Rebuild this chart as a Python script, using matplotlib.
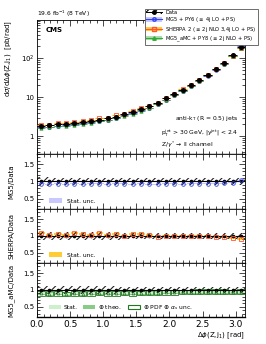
import matplotlib
matplotlib.use('Agg')
import matplotlib.pyplot as plt
import numpy as np
from matplotlib.lines import Line2D
from matplotlib.patches import Patch
from matplotlib.ticker import FixedLocator, FuncFormatter, MultipleLocator

# Binning: 25 equal bins in delta phi
edges = np.linspace(0, np.pi, 26)

# Measured cross section [pb/rad]
data_xs = [1.82, 1.9, 2.0, 2.09, 2.2, 2.35, 2.45, 2.65, 2.88, 3.17, 3.7, 4.2, 4.9,
           5.8, 7.1, 9.3, 12.1, 15.6, 21, 28, 38, 54, 76, 120, 195]
data_rel_unc = [0.12, 0.12, 0.11, 0.11, 0.11, 0.11, 0.11, 0.11, 0.11, 0.11, 0.1, 0.1, 0.1,
                0.1, 0.1, 0.1, 0.1, 0.1, 0.1, 0.1, 0.1, 0.1, 0.1, 0.1, 0.1]

# Prediction / data ratios
mg5_ratio = [0.93, 0.92, 0.93, 0.92, 0.93, 0.92, 0.93, 0.93, 0.92, 0.93, 0.93, 0.92, 0.93,
             0.92, 0.92, 0.93, 0.93, 0.92, 0.93, 0.93, 0.93, 0.94, 0.95, 0.97, 1.04]
sherpa_ratio = [1.08, 1.03, 1.06, 1.02, 1.08, 1.07, 1.04, 1.09, 1.02, 1.07, 1.0, 1.06, 1.07,
                1.03, 0.97, 1.01, 1.0, 1.01, 0.99, 1.0, 0.99, 0.97, 0.96, 0.93, 0.92]
amc_ratio = [0.9, 0.89, 0.9, 0.88, 0.9, 0.89, 0.9, 0.91, 0.9, 0.9, 0.91, 0.9, 0.91,
             0.92, 0.92, 0.93, 0.93, 0.94, 0.94, 0.95, 0.95, 0.95, 0.95, 0.94, 0.95]
mg5_stat = 0.015
sherpa_stat = 0.03
amc_stat = 0.03
amc_theo = 0.06
amc_pdf = 0.07

x = 0.5 * (edges[1:] + edges[:-1])
w = np.diff(edges)
data_xs = np.array(data_xs)
data_rel_unc = np.array(data_rel_unc)
mg5_ratio = np.array(mg5_ratio)
sherpa_ratio = np.array(sherpa_ratio)
amc_ratio = np.array(amc_ratio)

plt.rcParams['font.family'] = 'DejaVu Sans'
plt.rcParams['hatch.linewidth'] = 0.8

fig = plt.figure(figsize=(2.66, 3.44), dpi=100)
gs = fig.add_gridspec(4, 1, height_ratios=[134, 55, 54, 54], hspace=0,
                      left=0.139, right=0.921, top=0.942, bottom=0.0785)
ax = fig.add_subplot(gs[0])
rax = [fig.add_subplot(gs[i], sharex=ax) for i in (1, 2, 3)]

fs = 4.3

# Main panel
ax.errorbar(x, data_xs * mg5_ratio, xerr=w / 2, fmt='o', mfc='none', mec='#3344ee', ecolor='#3344ee',
            ms=2.6, mew=0.6, elinewidth=0.6, zorder=3)
ax.errorbar(x, data_xs * sherpa_ratio, xerr=w / 2, fmt='s', mfc='none', mec='#ff5533', ecolor='#ffaa00',
            ms=2.4, mew=0.6, elinewidth=0.8, zorder=3)
ax.errorbar(x, data_xs * amc_ratio, xerr=w / 2, fmt='^', mfc='#33aa33', mec='#117711', ecolor='#33aa33',
            ms=2.4, mew=0.4, elinewidth=0.6, zorder=3)
ax.errorbar(x, data_xs, xerr=w / 2, yerr=data_xs * data_rel_unc, fmt='o', color='black',
            ms=2.6, elinewidth=0.7, capsize=0, zorder=4)
ax.set_yscale('log')
ax.set_ylim(0.35, 950)
ax.set_xlim(0, np.pi)
ax.set_ylabel(r'd$\sigma$/d$\Delta\phi$(Z,j$_1$)  [pb/rad]', fontsize=5, loc='top', labelpad=6)
ax.yaxis.set_major_formatter(FuncFormatter(lambda v, p: {1: '1', 10: '10', 100: r'10$^2$'}.get(round(v), '')))
ax.yaxis.set_minor_formatter(FuncFormatter(lambda v, p: ''))
ax.text(0.04, 0.95, 'CMS', transform=ax.transAxes, fontsize=5, fontweight='bold', va='top')
ax.text(0, 1.01, r'19.6 fb$^{-1}$ (8 TeV)', transform=ax.transAxes, fontsize=fs, va='bottom')
ax.text(0.97, 0.25, r'anti-k$_\mathrm{T}$ (R = 0.5) jets', transform=ax.transAxes, fontsize=fs, ha='right')
ax.text(0.97, 0.15, r'p$_\mathrm{T}^\mathrm{jet}$ > 30 GeV, |y$^\mathrm{jet}$| < 2.4', transform=ax.transAxes,
        fontsize=fs, ha='right')
ax.text(0.85, 0.05, r'Z/$\gamma^*\!\rightarrow$ ll channel', transform=ax.transAxes, fontsize=fs, ha='right')

# Legend
h_data = (Patch(facecolor='none', edgecolor='black', hatch='////', lw=0),
          Line2D([], [], color='black', marker='o', ms=2.5, lw=0.7))
h_mg5 = (Patch(facecolor='#c8c8ff', edgecolor='none'),
         Line2D([], [], color='#3344ee', marker='o', mfc='none', ms=2.5, lw=0.8))
h_sh = (Patch(facecolor='#ffcc33', edgecolor='none'),
        Line2D([], [], color='#ff5533', marker='s', mfc='none', ms=2.5, lw=0.8))
h_amc = (Patch(facecolor='#aaddaa', edgecolor='none'),
         Line2D([], [], color='#33aa33', marker='^', ms=2.5, lw=0.8))
fig.legend([h_data, h_mg5, h_sh, h_amc],
           ['Data', r'MG5 + PY6 ($\leq$ 4j LO + PS)', r'SHERPA 2 ($\leq$ 2j NLO 3,4j LO + PS)',
            r'MG5_aMC + PY8 ($\leq$ 2j NLO + PS)'],
           loc='upper left', bbox_to_anchor=(0.535, 0.982), fontsize=3.7, frameon=True, fancybox=False,
           edgecolor='#555555', framealpha=1, borderpad=0.2, labelspacing=0.1, handlelength=3.2,
           handleheight=0.9, handletextpad=0.6).get_frame().set_linewidth(0.6)

# Ratio panels
def data_band(a):
    a.bar(x, 2 * data_rel_unc, bottom=1 - data_rel_unc, width=w, color='none', edgecolor='#222222',
          hatch='////', lw=0, zorder=2)
    a.errorbar(x, np.ones_like(x), xerr=w / 2, fmt='o', color='black', ms=1.6, elinewidth=0.6, zorder=4)
    a.axhline(1, color='black', lw=0.8, zorder=3)

r = rax[0]
data_band(r)
r.bar(x, 2 * mg5_stat, bottom=mg5_ratio - mg5_stat, width=w, color='#c8c8ff', lw=0, zorder=1)
r.plot(x, mg5_ratio, 'o', mfc='none', mec='#3344ee', ms=2.6, mew=0.6, zorder=5)
r.set_ylabel('MG5/Data', fontsize=5)
r.legend([Patch(facecolor='#c8c8ff')], ['Stat. unc.'], loc='lower left', fontsize=fs, frameon=False,
         bbox_to_anchor=(0.03, 0.0), handlelength=2.2)

r = rax[1]
data_band(r)
r.bar(x, 2 * sherpa_stat, bottom=sherpa_ratio - sherpa_stat, width=w * 0.9, color='#ffcc33', lw=0, zorder=1)
r.plot(x, sherpa_ratio, 's', mfc='none', mec='#ff5533', ms=2.4, mew=0.6, zorder=5)
r.set_ylabel('SHERPA/Data', fontsize=5)
r.legend([Patch(facecolor='#ffcc33')], ['Stat. unc.'], loc='lower left', fontsize=fs, frameon=False,
         bbox_to_anchor=(0.03, 0.0), handlelength=2.2)

r = rax[2]
data_band(r)
r.bar(x, 2 * amc_pdf, bottom=amc_ratio - amc_pdf, width=w * 0.9, color='none', edgecolor='#227722',
      lw=0.6, zorder=2)
r.bar(x, 2 * amc_theo, bottom=amc_ratio - amc_theo, width=w * 0.9, color='#88cc88', lw=0, zorder=1)
r.bar(x, 2 * amc_stat, bottom=amc_ratio - amc_stat, width=w * 0.9, color='#ccf0cc', lw=0, zorder=1)
r.plot(x, amc_ratio, '^', mfc='none', mec='#227722', ms=2.2, mew=0.5, zorder=5)
r.set_ylabel('MG5_aMC/Data', fontsize=5)
r.legend([Patch(facecolor='#ccf0cc'), Patch(facecolor='#88cc88'),
          Patch(facecolor='none', edgecolor='#227722', lw=0.8)],
         ['Stat.', r'$\oplus$ theo.', r'$\oplus$ PDF $\oplus$ $\alpha_s$ unc.'],
         loc='lower left', ncol=3, fontsize=fs, frameon=False, bbox_to_anchor=(0.03, 0.0),
         handlelength=2.0, columnspacing=1.0, handletextpad=0.5)
r.set_xlabel(r'$\Delta\phi$(Z,j$_1$) [rad]', fontsize=5, loc='right', labelpad=1)

for r in rax:
    r.set_ylim(0.2, 1.8)
    r.yaxis.set_major_locator(FixedLocator([0.5, 1, 1.5]))
    r.yaxis.set_major_formatter(FuncFormatter(lambda v, p: f'{v:g}'))
    r.yaxis.set_minor_locator(MultipleLocator(0.1))
    r.yaxis.set_label_coords(-0.11, 0.5)

for a in [ax] + rax:
    a.tick_params(which='both', direction='in', top=True, right=True, labelsize=5, width=0.5, pad=2)
    a.tick_params(which='major', length=4)
    a.tick_params(which='minor', length=2)
    a.xaxis.set_minor_locator(MultipleLocator(0.1))
    a.xaxis.set_major_locator(MultipleLocator(0.5))
    for s in a.spines.values():
        s.set_linewidth(0.6)
    a.spines['bottom'].set_linewidth(1.0)
    if a is not rax[-1]:
        plt.setp(a.get_xticklabels(), visible=False)
rax[-1].tick_params(axis='x', labelsize=6.5)
ax.yaxis.set_label_coords(-0.11, 1.0)

fig.savefig('out.png', dpi=100)
